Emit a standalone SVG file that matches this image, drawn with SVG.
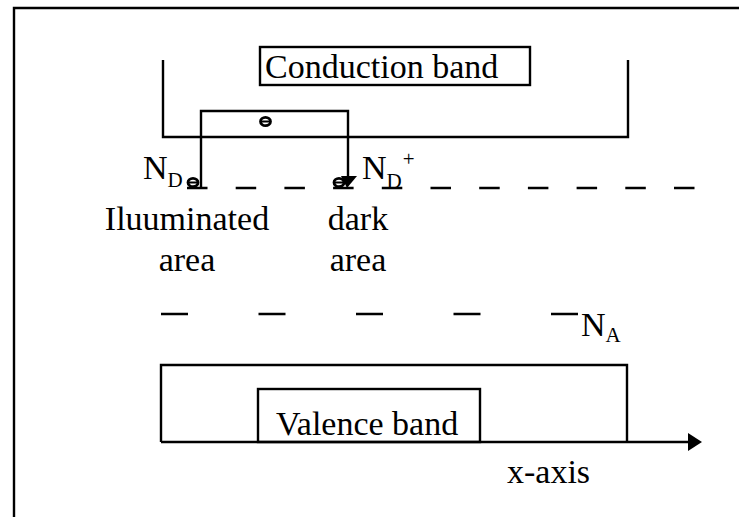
<svg xmlns="http://www.w3.org/2000/svg" xmlns:xlink="http://www.w3.org/1999/xlink" width="739" height="517" viewBox="0 0 739 517">
<style>
  .ln { fill: none; stroke: #000; stroke-width: 2.4; }
  .t { font-family: "Liberation Serif", "Times New Roman", serif; font-size: 34px; fill: #000; }
  .sub { font-family: "Liberation Serif", "Times New Roman", serif; font-size: 21px; fill: #000; }
  .dash1 { fill: none; stroke: #000; stroke-width: 2.4; stroke-dasharray: 20.5 28.2; }
  .dash2 { fill: none; stroke: #000; stroke-width: 2.4; stroke-dasharray: 27 70.5; }
</style>
<defs>
  <g id="electron">
    <ellipse cx="0" cy="0" rx="5" ry="4.2" fill="none" stroke="#000" stroke-width="2.8"/>
    <line x1="-5" y1="0" x2="5" y2="0" stroke="#000" stroke-width="2"/>
  </g>
</defs>
<rect x="0" y="0" width="739" height="517" fill="#fff"/>
<g id="frame">
  <path class="ln" d="M14,517 V8 H739"/>
</g>
<g id="conduction-band">
  <path class="ln" d="M163,60 V137 H628 V60"/>
  <rect class="ln" x="260" y="47" width="270" height="38"/>
  <text class="t" x="265" y="78">Conduction band</text>
</g>
<g id="donor-level">
  <line class="dash1" x1="187" y1="188" x2="695" y2="188"/>
  <text class="t" x="143" y="179">N<tspan class="sub" dy="8">D</tspan></text>
  <text class="t" x="362" y="179">N<tspan class="sub" dy="9">D</tspan><tspan class="sub" dx="1" dy="-22">+</tspan></text>
  <use xlink:href="#electron" x="193" y="182.5"/>
</g>
<g id="illuminated-area">
  <text class="t" x="187" y="230" text-anchor="middle">Iluuminated</text>
  <text class="t" x="187" y="271" text-anchor="middle">area</text>
</g>
<g id="dark-area">
  <text class="t" x="358" y="230" text-anchor="middle">dark</text>
  <text class="t" x="358" y="271" text-anchor="middle">area</text>
</g>
<g id="acceptor-level">
  <line class="dash2" x1="161" y1="314" x2="580" y2="314"/>
  <text class="t" x="581" y="336">N<tspan class="sub" dy="6">A</tspan></text>
</g>
<g id="valence-band">
  <path class="ln" d="M161,442 V365 H627 V442"/>
  <rect class="ln" x="258" y="389" width="222" height="53"/>
  <text class="t" x="276" y="435">Valence band</text>
</g>
<g id="connectors">
  <path class="ln" d="M201,188 V111 H348 V177"/>
  <use xlink:href="#electron" x="265.5" y="121.5"/>
  <use xlink:href="#electron" x="339" y="182.5"/>
  <polygon points="341,176 357,176 347,188" fill="#000"/>
  <line class="ln" x1="161" y1="442" x2="690" y2="442"/>
  <polygon points="688,433 702,442 688,451" fill="#000"/>
</g>
<g id="x-axis-label">
  <text class="t" x="507" y="483">x-axis</text>
</g>
</svg>
